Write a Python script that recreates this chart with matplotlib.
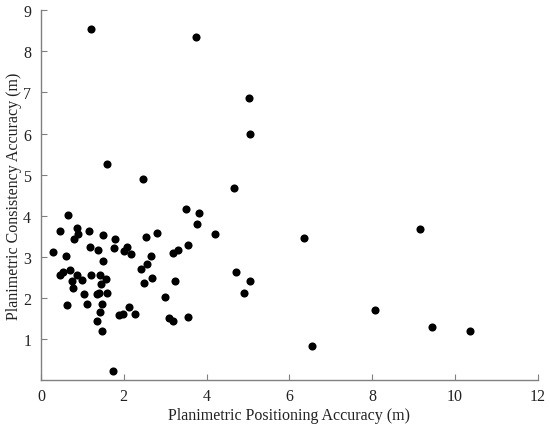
import matplotlib
matplotlib.use("Agg")
import matplotlib.pyplot as plt

plt.rcParams['font.family'] = ['Liberation Serif', 'DejaVu Serif']

positioning = [
    0.29, 0.46, 0.65, 0.60, 0.46, 0.54, 0.70, 0.62, 0.74, 0.77,
    0.80, 0.86, 0.89, 0.88, 0.99, 1.05, 1.11, 1.16, 1.19, 1.22,
    1.38, 1.36, 1.40, 1.35, 1.42, 1.43, 1.45, 1.47, 1.49, 1.48,
    1.51, 1.56, 1.59, 1.75, 1.76, 1.79, 1.89, 1.97, 2.01, 2.07,
    2.17, 2.13, 2.28, 2.42, 2.48, 2.54, 2.56, 2.65, 2.68, 2.81,
    2.99, 3.09, 3.18, 3.20, 3.30, 3.24, 3.50, 3.55, 3.56, 3.77,
    3.81, 4.21, 4.70, 4.91, 5.05,
    1.20, 3.74, 5.03, 5.04, 1.60, 2.47, 4.67,
    6.35, 9.15, 8.06, 9.44, 10.37, 6.54,
]
consistency = [
    3.12, 3.62, 4.02, 3.01, 2.56, 2.64, 2.67, 1.83, 2.41, 2.23,
    3.43, 3.69, 3.55, 2.56, 2.43, 2.09, 1.84, 3.62, 3.25, 2.56,
    3.17, 2.09, 2.11, 1.44, 2.55, 1.65, 2.33, 1.20, 2.90, 1.85,
    3.54, 2.45, 2.12, 0.23, 3.21, 3.44, 1.58, 1.60, 3.15, 3.23,
    3.08, 1.79, 1.61, 2.70, 2.37, 3.49, 2.82, 3.02, 2.48, 3.58,
    2.02, 1.50, 1.45, 3.09, 3.17, 2.42, 4.16, 3.29, 1.53, 3.79,
    4.07, 3.55, 2.63, 2.12, 2.42,
    8.54, 8.36, 6.87, 5.99, 5.26, 4.89, 4.67,
    3.45, 3.68, 1.71, 1.29, 1.19, 0.84,
]
x_ticks = [0, 2, 4, 6, 8, 10, 12]
y_ticks = [1, 2, 3, 4, 5, 6, 7, 8, 9]

text_color = '#222222'
fig = plt.figure(figsize=(5.5, 4.27), dpi=100)
ax = fig.add_axes([0.0744, 0.1075, 0.9036, 0.866])
ax.scatter(positioning, consistency, s=34, color='black', linewidths=0, zorder=3)
ax.set_xlim(0, 12)
ax.set_ylim(0, 9)
ax.set_xticks(x_ticks)
ax.set_yticks(y_ticks)
for s in ['top', 'right']:
    ax.spines[s].set_visible(False)
for s in ['left', 'bottom']:
    ax.spines[s].set_color('#808080')
    ax.spines[s].set_linewidth(1.0)
ax.tick_params(direction='in', length=4, color='#808080', labelsize=11.5,
               labelcolor=text_color)
ax.tick_params(axis='x', pad=6)
ax.tick_params(axis='y', pad=7)
ax.set_xlabel('Planimetric Positioning Accuracy (m)', fontsize=11.5,
              labelpad=2, color=text_color)
ax.set_ylabel('Planimetric Consistency Accuracy (m)', fontsize=11.5,
              labelpad=1, color=text_color)
fig.savefig('out.png', dpi=100)
